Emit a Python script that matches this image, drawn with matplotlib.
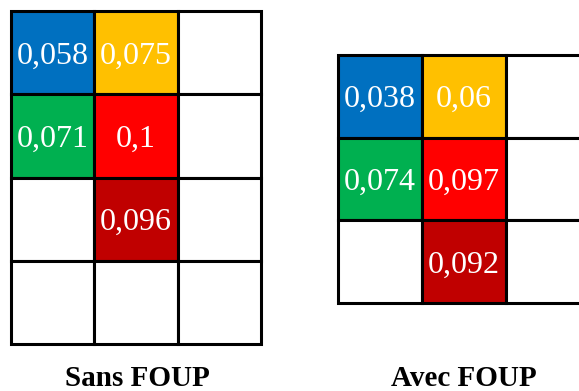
import matplotlib
matplotlib.use("Agg")
import matplotlib.pyplot as plt
from matplotlib.patches import Rectangle

# Data
titles = ["Sans FOUP", "Avec FOUP"]
sans_values = [[0.058, 0.075, None],
               [0.071, 0.1, None],
               [None, 0.096, None],
               [None, None, None]]
avec_values = [[0.038, 0.06, None],
               [0.074, 0.097, None],
               [None, 0.092, None]]
cell_colors = [["#0070C0", "#FFC000", None],
               ["#00B050", "#FF0000", None],
               [None, "#C00000", None],
               [None, None, None]]

W, H = 579, 391
fig = plt.figure(figsize=(W / 100, H / 100), dpi=100)

# axes positions in pixels: (left, top, right, bottom)
boxes = [(11, 11, 261, 344), (338, 55, 590, 303)]
title_pos = [(137, 386), (464, 386)]
grids = [sans_values, avec_values]

for vals, (l, t, r, b), title, (tx, ty) in zip(grids, boxes, titles, title_pos):
    nrows, ncols = len(vals), len(vals[0])
    ax = fig.add_axes([l / W, 1 - b / H, (r - l) / W, (b - t) / H])
    ax.set_xlim(0, ncols)
    ax.set_ylim(nrows, 0)
    ax.axis("off")
    for i in range(nrows):
        for j in range(ncols):
            c = cell_colors[i][j] or "white"
            ax.add_patch(Rectangle((j, i), 1, 1, facecolor=c, edgecolor="black",
                                   linewidth=2.2, clip_on=False))
            v = vals[i][j]
            if v is not None:
                ax.text(j + 0.5, i + 0.54, str(v).replace(".", ","), color="white",
                        ha="center", va="center", fontsize=23,
                        family="Liberation Serif", clip_on=False)
    fig.text(tx / W, 1 - ty / H, title, ha="center", va="baseline", fontsize=21,
             fontweight="bold", family="Liberation Serif", color="black")

fig.savefig("out.png", dpi=100)
